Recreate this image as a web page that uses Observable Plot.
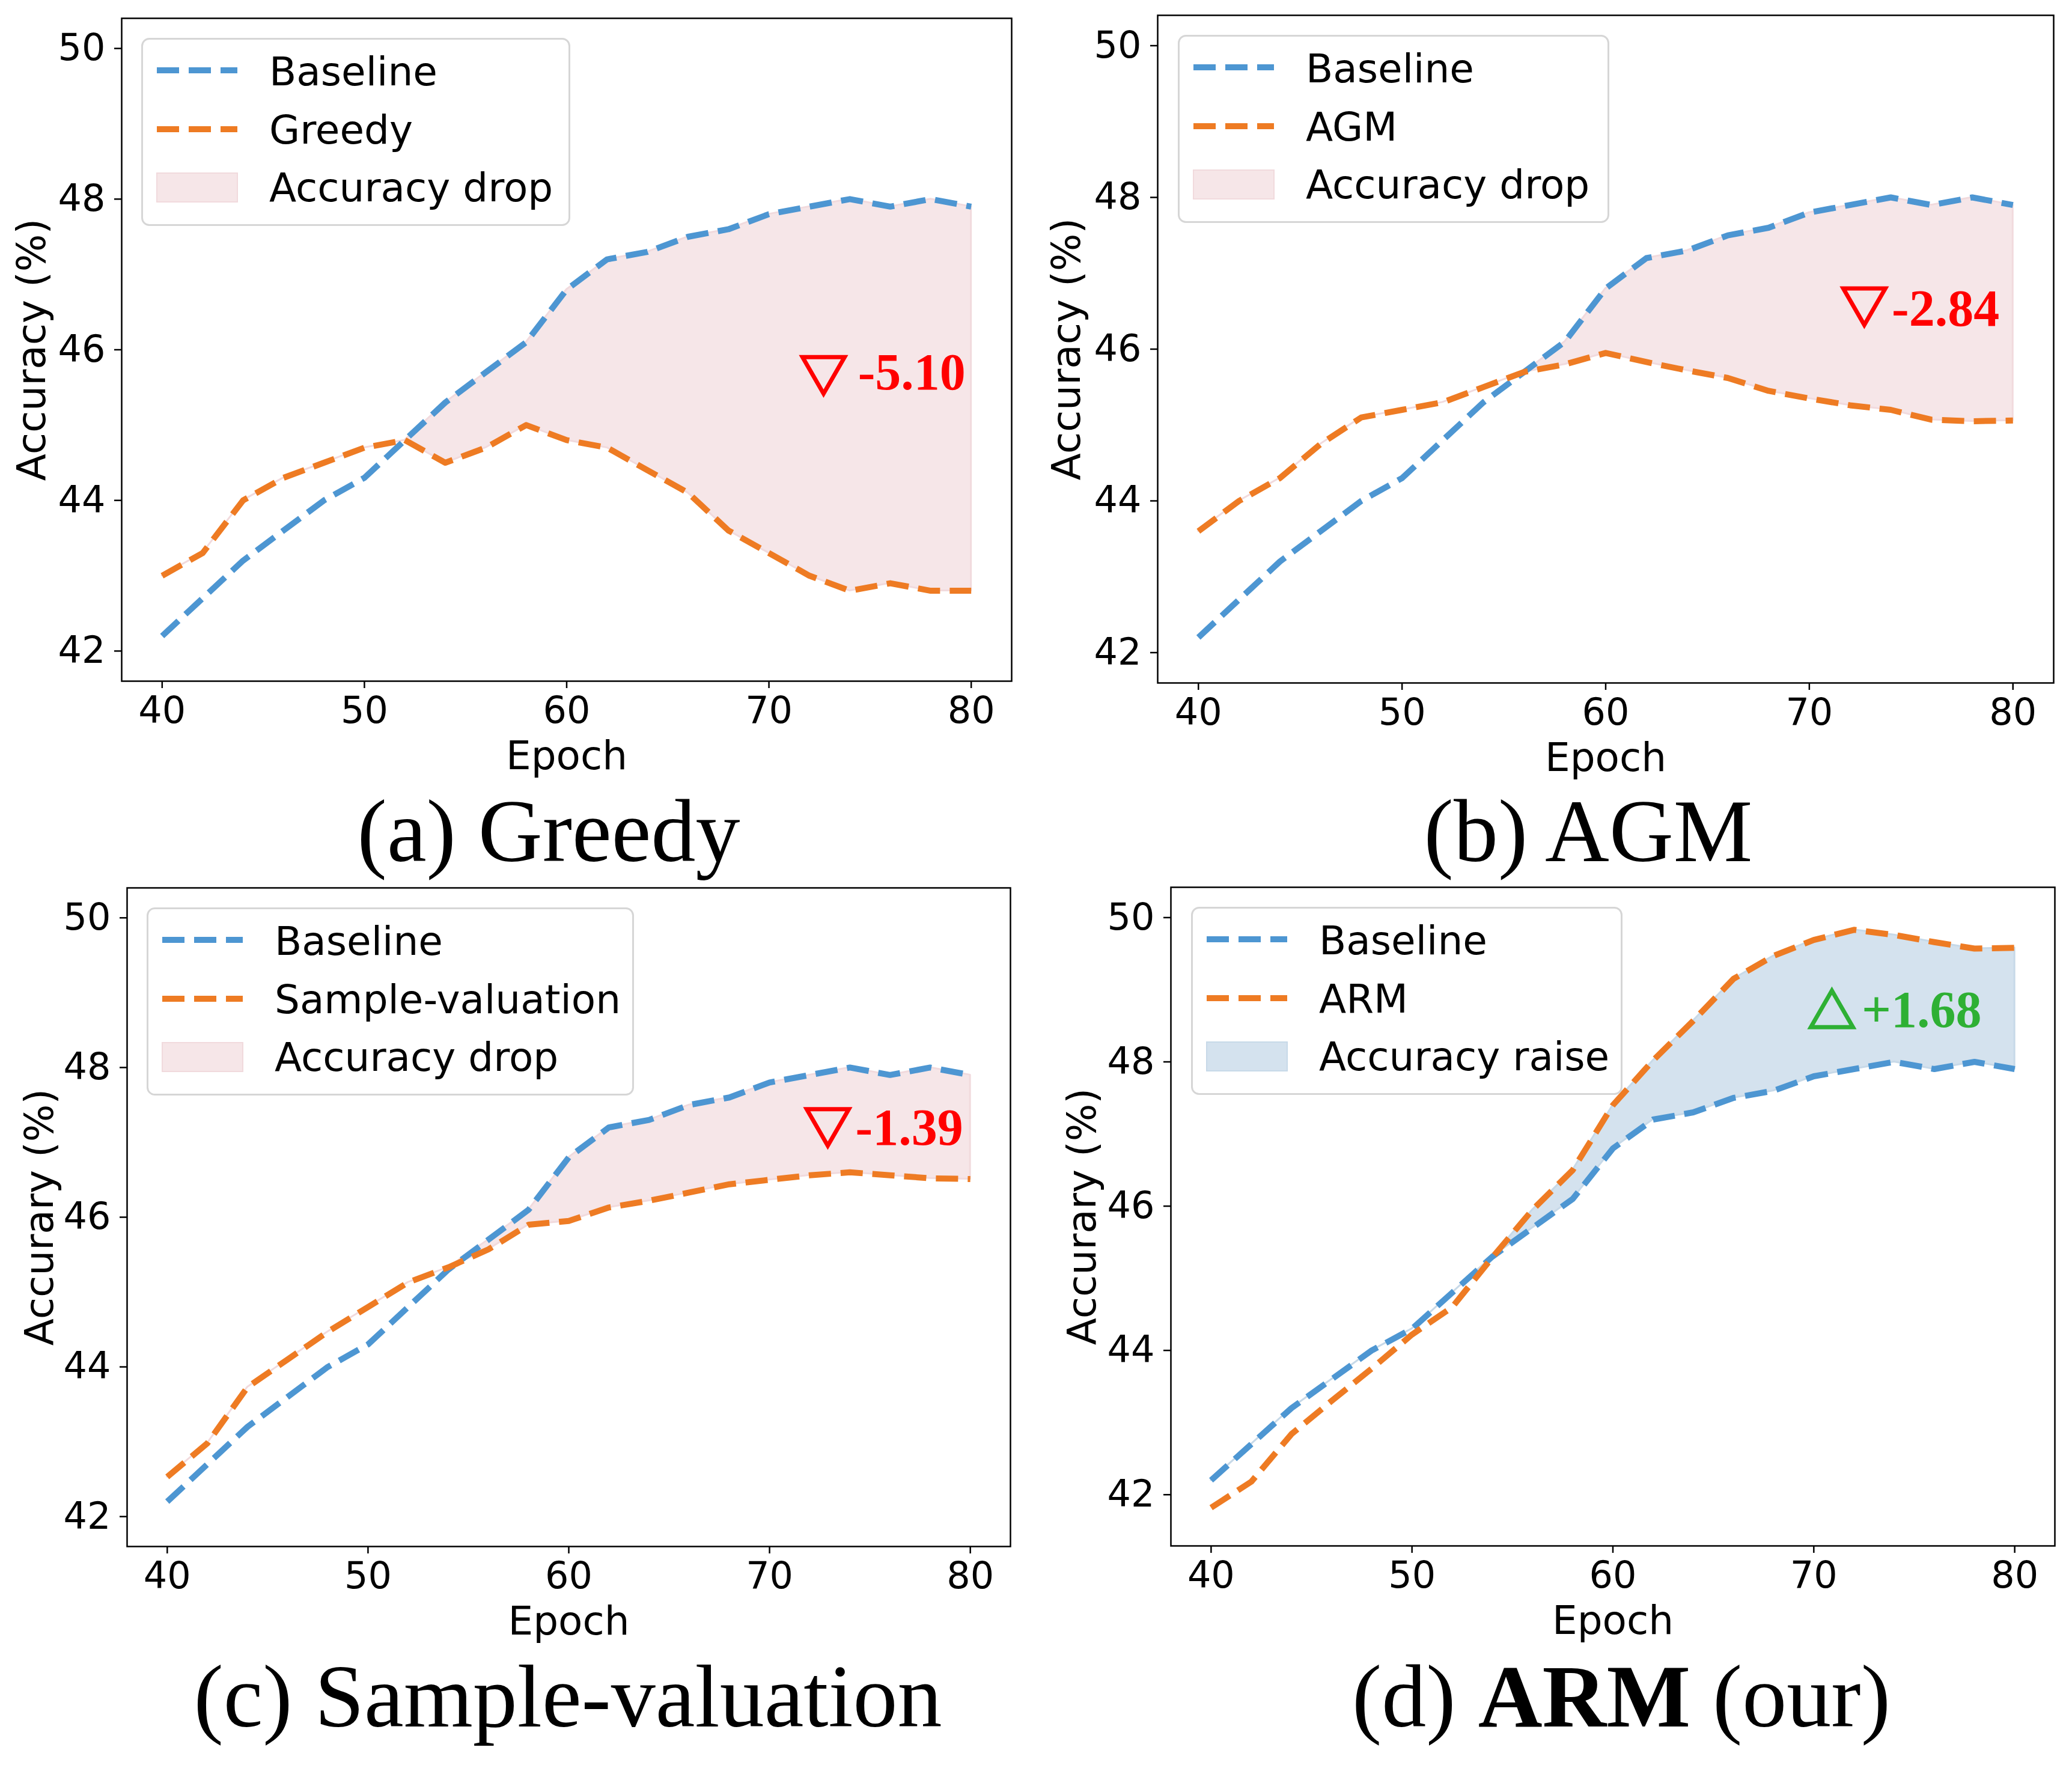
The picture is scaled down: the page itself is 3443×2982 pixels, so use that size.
<!DOCTYPE html>
<html><head><meta charset="utf-8">
<script src="https://cdn.jsdelivr.net/npm/d3@7"></script>
<script src="https://cdn.jsdelivr.net/npm/@observablehq/plot@0.6"></script>
<style>
html,body{margin:0;padding:0;background:#fff;}
#root{position:relative;width:3443px;height:2982px;overflow:hidden;background:#fff;}
#root > svg{position:absolute;left:0;top:0;}
</style></head><body><div id="root"></div>
<script>
// ---------------- data ----------------
const epochs = [40, 42, 44, 46, 48, 50, 52, 54, 56, 58, 60, 62, 64, 66, 68, 70, 72, 74, 76, 78, 80];
const baseline = [42.2, 42.7, 43.2, 43.6, 44.0, 44.3, 44.8, 45.3, 45.7, 46.1, 46.8, 47.2, 47.3, 47.5, 47.6, 47.8, 47.9, 48.0, 47.9, 48.0, 47.9];
const greedy = [43.0, 43.3, 44.0, 44.3, 44.5, 44.7, 44.8, 44.5, 44.7, 45.0, 44.8, 44.7, 44.4, 44.1, 43.6, 43.3, 43.0, 42.8, 42.9, 42.8, 42.8];
const agm = [43.6, 44.0, 44.3, 44.75, 45.1, 45.2, 45.3, 45.5, 45.7, 45.8, 45.95, 45.83, 45.72, 45.62, 45.45, 45.35, 45.26, 45.2, 45.07, 45.05, 45.06];
const sampleValuation = [42.53, 42.98, 43.73, 44.1, 44.47, 44.8, 45.13, 45.33, 45.57, 45.9, 45.95, 46.13, 46.22, 46.33, 46.44, 46.5, 46.56, 46.6, 46.56, 46.52, 46.51];
const arm = [41.82, 42.18, 42.84, 43.3, 43.75, 44.22, 44.6, 45.29, 45.95, 46.5, 47.4, 48.02, 48.57, 49.15, 49.47, 49.69, 49.83, 49.76, 49.66, 49.57, 49.58];

const xTicks = [40, 50, 60, 70, 80];
const yTicks = [42, 44, 46, 48, 50];
const methodNames = ["Greedy", "AGM", "Sample-valuation", "ARM"];
const methodSeries = [greedy, agm, sampleValuation, arm];
const yLabels = ["Accuracy (%)", "Accuracy (%)", "Accurary (%)", "Accurary (%)"];
const fillLabels = ["Accuracy drop", "Accuracy drop", "Accuracy drop", "Accuracy raise"];
const deltaLabels = ["-5.10", "-2.84", "-1.39", "+1.68"];
const deltaMarkX = [72.7, 72.7, 72.9, 70.9];
const deltaMarkY = [45.74, 46.64, 47.28, 48.65];
const deltaTextX = [74.4, 74.05, 74.28, 72.38];
const deltaTextY = [45.695, 46.53, 47.19, 48.71];
const captionTags = ["(a)", "(b)", "(c)", "(d)"];
const xLabel = "Epoch";

// ---------------- styles / layout ----------------
const W = 3443, H = 2982;
const BLUE = "#4d96d2", ORANGE = "#ee7b23";
const PINK = "#f6e6e8", PINK_EDGE = "#f1dadd";
const LBLUE = "#d4e2ee", LBLUE_EDGE = "#c7d9e8";
const layout = [
  {L: 202, R: 1683, T: 30, B: 1133, yDomain: [41.6, 50.4], yLabDx: -149, leg: [235, 63, 714], cap: [913, 1433]},
  {L: 1926, R: 3417, T: 25, B: 1136, yDomain: [41.6, 50.4], yLabDx: -151, leg: [1960, 58, 718], cap: [2643, 1433]},
  {L: 211, R: 1681, T: 1477, B: 2573, yDomain: [41.6, 50.4], yLabDx: -145, leg: [244, 1510, 811], cap: [945, 2873]},
  {L: 1948, R: 3419, T: 1476, B: 2572, yDomain: [41.29, 50.42], yLabDx: -147, leg: [1982, 1509, 718], cap: [2698, 2873]}
];

const root = document.getElementById("root");

methodSeries.forEach((series, i) => {
  const Ly = layout[i];
  const raise = i === 3;
  const rows = epochs.map((e, j) => ({epoch: e, base: baseline[j], other: series[j]}));
  const annot = [{mx: deltaMarkX[i], my: deltaMarkY[i], tx: deltaTextX[i], ty: deltaTextY[i], label: deltaLabels[i]}];
  const annColor = raise ? "#2eb034" : "#ff0000";
  const chart = Plot.plot({
    width: W, height: H,
    marginLeft: Ly.L, marginRight: W - Ly.R, marginTop: Ly.T, marginBottom: H - Ly.B,
    x: {domain: [38, 82]},
    y: {domain: Ly.yDomain},
    style: {fontFamily: "DejaVu Sans", background: "transparent", overflow: "visible", maxWidth: "none", color: "black"},
    marks: [
      Plot.areaY(rows, {
        x: "epoch",
        y1: raise ? "base" : "other",
        y2: d => Math.max(d.base, d.other),
        fill: raise ? LBLUE : PINK,
        stroke: raise ? LBLUE_EDGE : PINK_EDGE,
        strokeWidth: 3
      }),
      Plot.line(rows, {x: "epoch", y: "base", stroke: BLUE, strokeWidth: 10, strokeDasharray: "37,16", strokeLinecap: "butt", strokeLinejoin: "round"}),
      Plot.line(rows, {x: "epoch", y: "other", stroke: ORANGE, strokeWidth: 10, strokeDasharray: "37,16", strokeLinecap: "butt", strokeLinejoin: "round"}),
      Plot.dot(annot, {x: "mx", y: "my", symbol: "triangle", rotate: raise ? 0 : 180, r: 26, fill: "none", stroke: annColor, strokeWidth: 7}),
      Plot.text(annot, {x: "tx", y: "ty", text: "label", textAnchor: "start", lineAnchor: "middle", fontFamily: "Liberation Serif", fontWeight: "bold", fontSize: 86, fill: annColor}),
      Plot.axisX({ticks: xTicks, tickSize: 12, tickPadding: 13, fontSize: 62, label: null, strokeWidth: 2.5}),
      Plot.axisY({ticks: yTicks, tickSize: 12, tickPadding: 15, fontSize: 62, label: null, strokeWidth: 2.5}),
      Plot.frame({stroke: "black", strokeWidth: 2.5}),
      Plot.text([xLabel], {frameAnchor: "bottom", dy: 146, lineAnchor: "bottom", textAnchor: "middle", fontSize: 66, fill: "black"}),
      Plot.text([yLabels[i]], {frameAnchor: "left", dx: Ly.yLabDx, rotate: -90, lineAnchor: "middle", textAnchor: "middle", fontSize: 66, fill: "black"})
    ]
  });
  root.appendChild(chart);
});

// ---------------- legends & captions overlay ----------------
const overlay = d3.select(root).append("svg")
  .attr("width", W).attr("height", H)
  .style("position", "absolute").style("left", "0px").style("top", "0px");

methodSeries.forEach((series, i) => {
  const [lx, ly, lw] = layout[i].leg;
  const raise = i === 3;
  const g = overlay.append("g");
  g.append("rect").attr("x", lx + 1.5).attr("y", ly + 1.5).attr("width", lw - 3).attr("height", 310)
    .attr("rx", 12).attr("fill", "rgba(255,255,255,0.8)").attr("stroke", "#d6d6d6").attr("stroke-width", 3);
  const entries = [
    {kind: "line", color: BLUE, label: "Baseline", row: 54, text: 79},
    {kind: "line", color: ORANGE, label: methodNames[i], row: 152, text: 176},
    {kind: "patch", color: raise ? LBLUE : PINK, edge: raise ? LBLUE_EDGE : PINK_EDGE, label: fillLabels[i], row: 249, text: 272}
  ];
  entries.forEach(e => {
    if (e.kind === "line") {
      g.append("line").attr("x1", lx + 26).attr("x2", lx + 160).attr("y1", ly + e.row).attr("y2", ly + e.row)
        .attr("stroke", e.color).attr("stroke-width", 10).attr("stroke-dasharray", "37,16");
    } else {
      g.append("rect").attr("x", lx + 26).attr("y", ly + e.row - 24).attr("width", 134).attr("height", 48)
        .attr("fill", e.color).attr("stroke", e.edge).attr("stroke-width", 2);
    }
    g.append("text").attr("x", lx + 213).attr("y", ly + e.text)
      .attr("font-family", "DejaVu Sans").attr("font-size", 66).attr("fill", "black").text(e.label);
  });

  const [cx, cy] = layout[i].cap;
  const t = overlay.append("text").attr("x", cx).attr("y", cy).attr("text-anchor", "middle")
    .attr("font-family", "Liberation Serif").attr("font-size", 148).attr("fill", "black")
    .style("white-space", "pre");
  if (raise) {
    t.append("tspan").text(captionTags[i] + " ");
    t.append("tspan").attr("font-weight", "bold").text(methodNames[i]);
    t.append("tspan").text(" (our)");
  } else {
    t.text(captionTags[i] + " " + methodNames[i]);
  }
});
</script>
</body></html>
